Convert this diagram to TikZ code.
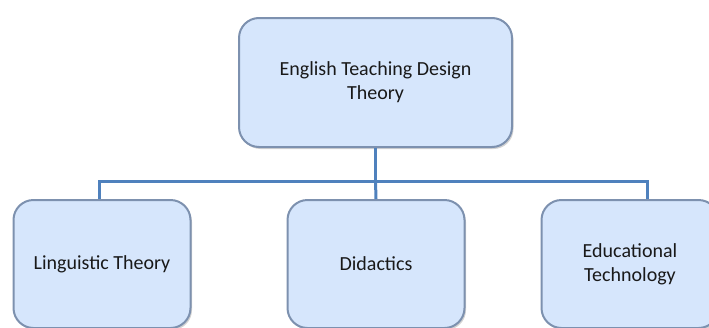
\documentclass[tikz,border=0pt]{standalone}
\usepackage{fontspec}
\setmainfont{Carlito}
\usetikzlibrary{shadows}

\definecolor{boxfill}{RGB}{214,230,252}
\definecolor{boxedge}{RGB}{125,145,175}
\definecolor{linkblue}{RGB}{79,129,189}

\tikzset{
  topicbox/.style={draw=boxedge, line width=2pt, fill=boxfill, rounded corners=20pt,
    align=center, font=\fontsize{20}{24}\selectfont, text=black!90,
    drop shadow={shadow xshift=1.5pt, shadow yshift=-2pt, opacity=0.35}},
  link/.style={draw=linkblue, line width=3pt}
}

\begin{document}
\begin{tikzpicture}[x=1pt,y=1pt,yscale=-1,xscale=1]
\useasboundingbox (0,0) rectangle (709,327);

% Top box
\node [topicbox, minimum width=273pt, minimum height=129pt] (design) at (375.5,82.5) {English Teaching Design\\Theory};

% Bottom boxes
\node [topicbox, minimum width=177pt, minimum height=128pt] (ling) at (102,264) {Linguistic Theory};
\node [topicbox, minimum width=177pt, minimum height=128pt] (didac) at (376,264) {Didactics};
\node [topicbox, minimum width=177pt, minimum height=128pt] (edtech) at (630,264) {Educational\\Technology};

% Connectors
\coordinate (fork) at ([yshift=33pt]design.south);
\draw [link] (design.south) -- (fork);
\draw [link] (fork) -| ([xshift=-3pt]ling.north);
\draw [link] (fork) -| ([xshift=17pt]edtech.north);
\draw [link] (fork) -- (didac.north);

\end{tikzpicture}
\end{document}
